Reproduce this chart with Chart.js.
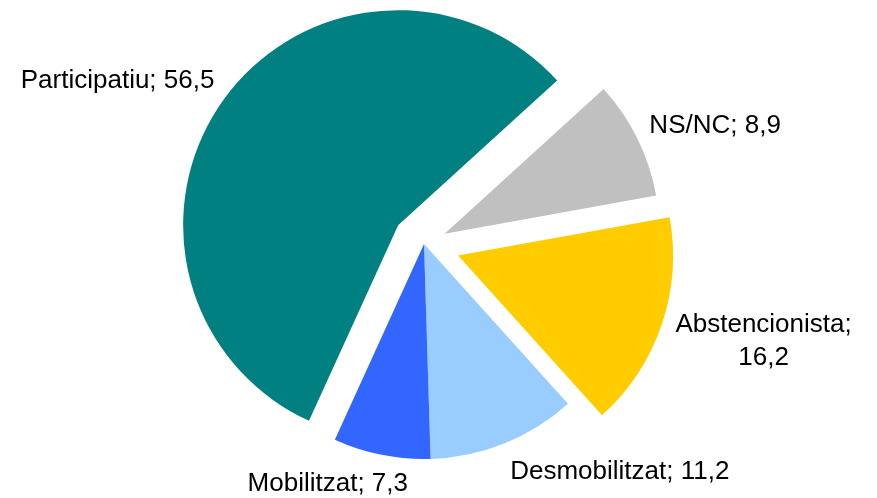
<!DOCTYPE html>
<html>
<head>
<meta charset="utf-8">
<script src="https://cdn.jsdelivr.net/npm/chart.js@4/dist/chart.umd.min.js"></script>
<style>
    html, body { margin: 0; padding: 0; background: #ffffff; }
    #wrap { width: 877px; height: 498px; }
</style>
</head>
<body>
<div id="wrap"><canvas id="pie-chart" width="877" height="498"></canvas></div>
<script>
// Data
const categories = ['Participatiu', 'NS/NC', 'Abstencionista', 'Desmobilitzat', 'Mobilitzat'];
const values = [56.5, 8.9, 16.2, 11.2, 7.3];

// Styles
const colors = ['#008080', '#C0C0C0', '#FFCC00', '#99CCFF', '#3366FF'];
const explode = [32, 23, 36, 0, 0];          // px each slice is pulled out
const wrapLabel = [false, false, true, false, false];
// label placement relative to the slice's outer edge at its mid angle
const labelNudge = [
    { dx: -10, dy: -10, align: 'right' },
    { dx: 12, dy: -6, align: 'left' },
    { dx: 102, dy: 7, align: 'center' },
    { dx: 6, dy: 36, align: 'left' },
    { dx: -134, dy: 36, align: 'left' }
];
const labelFont = '26px "Liberation Sans", Arial, sans-serif';
const lineHeight = 33;

function formatValue(v) {
    return v.toFixed(1).replace('.', ',');
}

// pull exploded slices out along their mid angle
const explodePlugin = {
    id: 'explode',
    afterDatasetUpdate(chart, args) {
        args.meta.data.forEach((arc, i) => {
            const mid = (arc.startAngle + arc.endAngle) / 2;
            arc.x += Math.cos(mid) * explode[i];
            arc.y += Math.sin(mid) * explode[i];
        });
    }
};

const labelPlugin = {
    id: 'sliceLabels',
    afterDatasetsDraw(chart) {
        const ctx = chart.ctx;
        const meta = chart.getDatasetMeta(0);
        ctx.save();
        ctx.font = labelFont;
        ctx.fillStyle = '#000000';
        ctx.textBaseline = 'alphabetic';
        meta.data.forEach((arc, i) => {
            const mid = (arc.startAngle + arc.endAngle) / 2;
            const ex = arc.x + Math.cos(mid) * arc.outerRadius;
            const ey = arc.y + Math.sin(mid) * arc.outerRadius;
            const n = labelNudge[i];
            const lines = wrapLabel[i]
                ? [categories[i] + ';', formatValue(values[i])]
                : [categories[i] + '; ' + formatValue(values[i])];
            ctx.textAlign = n.align;
            lines.forEach((line, k) => {
                ctx.fillText(line, ex + n.dx, ey + n.dy + k * lineHeight);
            });
        });
        ctx.restore();
    }
};

const ctx = document.getElementById('pie-chart').getContext('2d');
const pieChart = new Chart(ctx, {
    type: 'pie',
    data: {
        labels: categories,
        datasets: [{
            data: values,
            backgroundColor: colors,
            borderWidth: 0
        }]
    },
    options: {
        responsive: false,
        animation: false,
        rotation: -155.5,
        layout: {
            padding: { left: 0, right: 29, top: 29, bottom: 39 }
        },
        plugins: {
            legend: { display: false },
            tooltip: { enabled: false }
        }
    },
    plugins: [explodePlugin, labelPlugin]
});
</script>
</body>
</html>
